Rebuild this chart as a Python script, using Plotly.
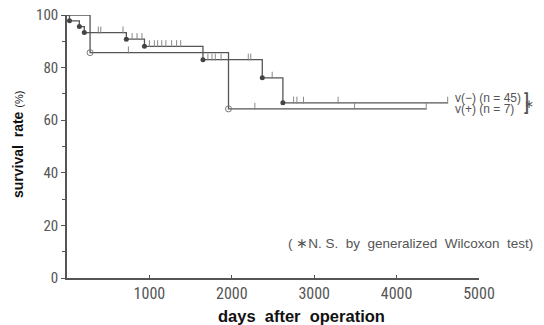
import plotly.graph_objects as go

# ---- data ----
neg_times = [0, 30, 150, 210, 720, 940, 1650, 2370, 2620, 4620]
neg_surv = [100, 97.8, 95.6, 93.3, 90.8, 88.1, 83.0, 76.1, 66.6, 66.6]
neg_event_times = [30, 150, 210, 720, 940, 1650, 2370, 2620]
neg_event_surv = [97.8, 95.6, 93.3, 90.8, 88.1, 83.0, 76.1, 66.6]
neg_cens_times = [380, 410, 680, 790, 850, 910, 1000, 1060, 1100, 1150, 1200, 1270, 1330, 1380,
                  1710, 1760, 1800, 1870, 2200, 2230, 2490, 2750, 2790, 2870, 3290, 4620]
neg_cens_surv = [93.3, 93.3, 93.3, 90.8, 90.8, 90.8, 88.1, 88.1, 88.1, 88.1, 88.1, 88.1, 88.1, 88.1,
                 83.0, 83.0, 83.0, 83.0, 83.0, 83.0, 76.1, 66.6, 66.6, 66.6, 66.6, 66.6]

pos_times = [0, 280, 1960, 4360]
pos_surv = [100, 85.7, 64.3, 64.3]
pos_event_times = [280, 1960]
pos_event_surv = [85.7, 64.3]
pos_cens_times = [745, 2280, 3490, 4360]
pos_cens_surv = [85.7, 64.3, 64.3, 64.3]

y_ticks = [0, 20, 40, 60, 80, 100]
x_ticks = [1000, 2000, 3000, 4000, 5000]

LINE = "#555555"
TXT = "#555555"
FONT = "Liberation Sans Narrow, Roboto Condensed, Liberation Sans, sans-serif"
SANS = "Liberation Sans, Arial, sans-serif"

# plot area (layout pixels)
L, T, R, B = 59, 7, 471, 270
W, H = R - L, B - T


def px(xp):
    return (xp - L) / W


def py(yp):
    return (B - yp) / H


fig = go.Figure()
fig.add_trace(go.Scatter(x=neg_times, y=neg_surv, mode="lines", line=dict(color=LINE, width=1.3, shape="hv"),
                         hoverinfo="skip", showlegend=False))
fig.add_trace(go.Scatter(x=pos_times, y=pos_surv, mode="lines", line=dict(color=LINE, width=1.3, shape="hv"),
                         hoverinfo="skip", showlegend=False))
fig.add_trace(go.Scatter(x=neg_cens_times, y=[v + 1.0 for v in neg_cens_surv], mode="markers",
                         marker=dict(symbol="line-ns-open", size=5, color="#888", line=dict(color="#888", width=1)),
                         showlegend=False))
fig.add_trace(go.Scatter(x=pos_cens_times, y=[v + 1.0 for v in pos_cens_surv], mode="markers",
                         marker=dict(symbol="line-ns-open", size=5, color="#888", line=dict(color="#888", width=1)),
                         showlegend=False))
fig.add_trace(go.Scatter(x=neg_event_times, y=neg_event_surv, mode="markers",
                         marker=dict(symbol="circle", size=5, color="#444"), showlegend=False))
fig.add_trace(go.Scatter(x=pos_event_times, y=pos_event_surv, mode="markers",
                         marker=dict(symbol="circle-open", size=6, color="#777", line=dict(width=1)),
                         showlegend=False))

fig.update_xaxes(range=[0, 5000], tickvals=x_ticks, ticks="inside", ticklen=3, tickcolor=LINE,
                 showline=True, linecolor=LINE, linewidth=1.5, showgrid=False, zeroline=False,
                 automargin=False, ticklabeloverflow="allow",
                 tickfont=dict(family=FONT, size=16, color=TXT))
fig.update_yaxes(range=[0, 100], tickvals=y_ticks, ticks="outside", ticklen=4, tickcolor=LINE,
                 showline=True, linecolor=LINE, linewidth=1.5, showgrid=False, zeroline=False,
                 automargin=False, ticklabeloverflow="allow",
                 tickfont=dict(family=FONT, size=15, color=TXT),
                 minor=dict(tickvals=[10, 30, 50, 70, 90], ticks="outside", ticklen=3, tickcolor=LINE))

fig.add_annotation(x=px(293), y=py(308), xref="paper", yref="paper",
                   xanchor="center", yanchor="middle", text="<b>days  after  operation</b>", showarrow=False,
                   font=dict(family=SANS, size=16.5, color="#111"))
fig.add_annotation(x=px(10), y=py(137), xref="paper", yref="paper", textangle=-90, showarrow=False,
                   xanchor="center", yanchor="middle",
                   text="<b>survival  rate</b> <span style='font-size:11px'>(%)</span>",
                   font=dict(family=SANS, size=14, color="#111"))
fig.add_annotation(x=px(527), y=py(235), xref="paper", yref="paper", showarrow=False,
                   text="( ∗N. S.  by  generalized  Wilcoxon  test)", xanchor="right", yanchor="middle",
                   font=dict(family=SANS, size=13.5, color=TXT))
fig.add_annotation(x=px(445), y=py(90), xref="paper", yref="paper", showarrow=False, xanchor="left",
                   yanchor="middle", text="v(−) (n = 45)", font=dict(family=SANS, size=12, color=TXT))
fig.add_annotation(x=px(445), y=py(101), xref="paper", yref="paper", showarrow=False, xanchor="left",
                   yanchor="middle", text="v(+) (n = 7)", font=dict(family=SANS, size=12, color=TXT))
fig.add_annotation(x=px(524), y=py(95), xref="paper", yref="paper", showarrow=False, xanchor="right",
                   yanchor="middle", text="]", font=dict(family=FONT, size=22, color=TXT))
fig.add_annotation(x=px(528), y=py(95.5), xref="paper", yref="paper", showarrow=False, xanchor="right",
                   yanchor="middle", text="∗", font=dict(family=FONT, size=12, color=TXT))

fig.update_layout(width=544, height=325, margin=dict(l=L, r=544 - R, t=T, b=325 - B),
                  plot_bgcolor="white", paper_bgcolor="white")
fig.write_html("out.html")
